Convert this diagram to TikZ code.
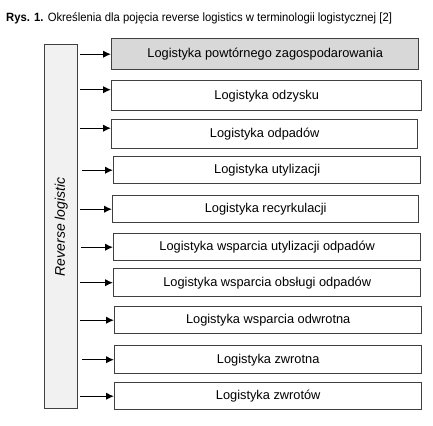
\documentclass[tikz,border=0pt]{standalone}
\usepackage{fontspec}
\setmainfont{Liberation Sans}
\newfontfamily\titlefont[FakeStretch=0.94]{Liberation Sans}
\usepackage{xcolor}
\definecolor{FrameGray}{RGB}{64,64,64}
\definecolor{BarGray}{RGB}{241,241,241}
\definecolor{HeadGray}{RGB}{216,216,216}
\usetikzlibrary{positioning, arrows.meta}

\tikzset{
  box/.style={draw=FrameGray, line width=1.4pt, fill=white, anchor=north west,
    inner sep=0pt, font=\fontsize{12.8}{14}\selectfont},
  arr/.style={draw=black, line width=1.3pt, -{Latex[length=8pt,width=7.5pt]}}
}

\begin{document}
\begin{tikzpicture}[x=1pt, y=-1pt]
  \useasboundingbox (0,0) rectangle (433,425);
  % Tytul / Title
  \node[anchor=base west, inner sep=0pt, font=\titlefont\fontsize{12}{14}\selectfont] (title) at (6,22)
    {\textbf{Rys. 1.} Określenia dla pojęcia reverse logistics w terminologii logistycznej [2]};
  % Pasek / Bar
  \node[draw=FrameGray, line width=1.4pt, fill=BarGray, anchor=north west, inner sep=0pt,
    minimum width=33pt, minimum height=364pt] (bar) at (44,44) {};
  \node[rotate=90, font=\itshape\fontsize{14}{16}\selectfont] (barlabel) at (bar.center) {Reverse logistic};
  % Pola / Boxes
  \node[box, fill=HeadGray, minimum width=307pt, minimum height=31pt] (b1) at (111,38) {Logistyka powtórnego zagospodarowania};
  \node[box, minimum width=310pt, minimum height=30pt] (b2) at (111,80) {Logistyka odzysku};
  \node[box, minimum width=306pt, minimum height=29pt] (b3) at (111,119) {Logistyka odpadów};
  \node[box, minimum width=307pt, minimum height=27pt] (b4) at (113,156) {Logistyka utylizacji};
  \node[box, minimum width=306pt, minimum height=27pt] (b5) at (112,195) {Logistyka recyrkulacji};
  \node[box, minimum width=307pt, minimum height=27pt] (b6) at (113,233) {Logistyka wsparcia utylizacji odpadów};
  \node[box, minimum width=307pt, minimum height=28pt] (b7) at (113,268) {Logistyka wsparcia obsługi odpadów};
  \node[box, minimum width=307pt, minimum height=27pt] (b8) at (114,306) {Logistyka wsparcia odwrotna};
  \node[box, minimum width=307pt, minimum height=28pt] (b9) at (114,345) {Logistyka zwrotna};
  \node[box, minimum width=307pt, minimum height=27pt] (b10) at (114,382) {Logistyka zwrotów};
  % Strzalki / Arrows
  \draw[arr] ([xshift=2pt]bar.east |- b1.west) -- (b1.west);
  \draw[arr] ([xshift=2pt,yshift=6pt]bar.east |- b2.west) -- ([yshift=6pt]b2.west);
  \draw[arr] ([xshift=2pt,yshift=6pt]bar.east |- b3.west) -- ([yshift=6pt]b3.west);
  \draw[arr] ([xshift=4pt]bar.east |- b4.west) -- (b4.west);
  \draw[arr] ([xshift=2pt]bar.east |- b5.west) -- (b5.west);
  \draw[arr] ([xshift=3pt]bar.east |- b6.west) -- (b6.west);
  \draw[arr] ([xshift=2pt]bar.east |- b7.west) -- (b7.west);
  \draw[arr] ([xshift=2pt]bar.east |- b8.west) -- (b8.west);
  \draw[arr] ([xshift=4pt]bar.east |- b9.west) -- (b9.west);
  \draw[arr] ([xshift=2pt]bar.east |- b10.west) -- (b10.west);
\end{tikzpicture}
\end{document}
